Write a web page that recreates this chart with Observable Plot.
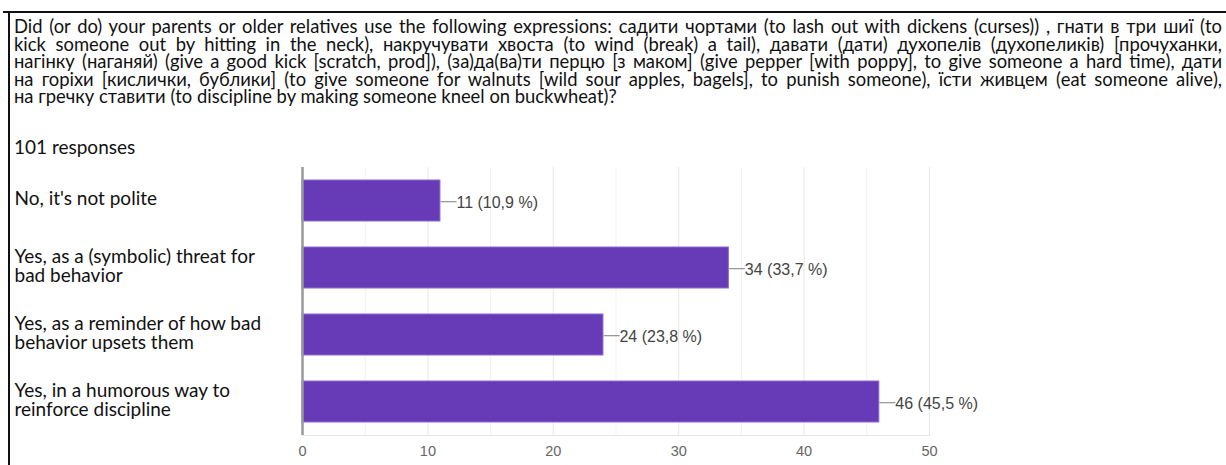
<!DOCTYPE html>
<html>
<head>
<meta charset="utf-8">
<script src="https://cdn.jsdelivr.net/npm/d3@7"></script>
<script src="https://cdn.jsdelivr.net/npm/@observablehq/plot@0.6"></script>
<style>
  html, body { margin: 0; padding: 0; background: #fff; }
  #page { position: relative; width: 1226px; height: 465px; overflow: hidden; background: #fff; }
  .border-top { position: absolute; left: 3px; top: 11px; width: 1223px; height: 2px; background: #111; }
  .border-left { position: absolute; left: 8px; top: 11px; width: 2px; height: 460px; background: #111; }
  #title { position: absolute; left: 14px; top: 18px; width: 1208px; font-family: Lato, sans-serif; font-size: 18.4px; line-height: 17.6px; color: #111; }
  #title .line { white-space: nowrap; display: block; height: 17.6px; }
  #title .line span { display: inline-block; white-space: nowrap; }
  #responses { position: absolute; left: 14px; top: 137px; font-family: Lato, sans-serif; font-size: 19px; line-height: 20px; color: #111; }
  #chart { position: absolute; left: 0; top: 160px; }
</style>
</head>
<body>
<div id="page">
  <div class="border-top"></div>
  <div class="border-left"></div>
  <div id="title"></div>
  <div id="responses"></div>
  <div id="chart"></div>
</div>
<script>
const titleLines = [
  "Did (or do) your parents or older relatives use the following expressions: садити чортами (to lash out with dickens (curses)) , гнати в три шиї (to",
  "kick someone out by hitting in the neck), накручувати хвоста (to wind (break) a tail), давати (дати) духопелів (духопеликів) [прочуханки,",
  "нагінку (наганяй) (give a good kick [scratch, prod]), (за)да(ва)ти перцю [з маком] (give pepper [with poppy], to give someone a hard time), дати",
  "на горіхи [кислички, бублики] (to give someone for walnuts [wild sour apples, bagels], to punish someone), їсти живцем (eat someone alive),",
  "на гречку ставити (to discipline by making someone kneel on buckwheat)?"
];
const responsesText = "101 responses";

const categories = [
  "No, it's not polite",
  "Yes, as a (symbolic) threat for\nbad behavior",
  "Yes, as a reminder of how bad\nbehavior upsets them",
  "Yes, in a humorous way to\nreinforce discipline"
];
const counts = [11, 34, 24, 46];
const percents = ["10,9", "33,7", "23,8", "45,5"];
const xTicks = [0, 10, 20, 30, 40, 50];
const minorGrid = [5, 15, 25, 35, 45];
const majorGrid = [10, 20, 30, 40, 50];

// Title: every line but the last is justified to the full width
const titleEl = document.getElementById("title");
titleLines.forEach((t, i) => {
  const div = document.createElement("div");
  div.className = "line";
  const span = document.createElement("span");
  span.textContent = t;
  div.appendChild(span);
  titleEl.appendChild(div);
  if (i < titleLines.length - 1) {
    const w = span.getBoundingClientRect().width;
    const diff = 1208 - w;
    if (diff >= 0) {
      const spaces = (t.match(/ /g) || []).length;
      span.style.wordSpacing = (diff / spaces) + "px";
    } else {
      span.style.letterSpacing = (diff / (t.length - 1)) + "px";
    }
  }
});
document.getElementById("responses").textContent = responsesText;

const data = categories.map((c, i) => ({category: c, count: counts[i], pct: percents[i]}));

const chart = Plot.plot({
  width: 1226,
  height: 305,
  marginLeft: 302,
  marginRight: 297,
  marginTop: 7,
  marginBottom: 30,
  style: {fontFamily: "'Liberation Sans', Arial, sans-serif", fontSize: "14.5px", color: "#666", background: "transparent"},
  x: {domain: [0, 50], ticks: xTicks, tickSize: 0, tickPadding: 10, label: null},
  y: {domain: categories, paddingInner: 0.39, paddingOuter: 0.195, axis: null},
  marks: [
    Plot.ruleX(minorGrid, {stroke: "#f1f1f1", strokeWidth: 1}),
    Plot.ruleX(majorGrid, {stroke: "#e6e6e6", strokeWidth: 1}),
    Plot.frame({anchor: "bottom", stroke: "#e6e6e6"}),
    Plot.barX(data, {y: "category", x: "count", fill: "#673ab7", stroke: "#8c6bd3", strokeWidth: 1}),
    Plot.ruleX([0], {stroke: "#999", strokeWidth: 2.5}),
    Plot.text(data, {y: "category", x: "count", text: () => "—", dx: 0, textAnchor: "start", fill: "#9a9a9a", fontSize: 16}),
    Plot.text(data, {y: "category", x: "count", text: d => `${d.count} (${d.pct} %)`, dx: 16, dy: 2, textAnchor: "start", fill: "#444", fontSize: 16}),
    Plot.text(data, {y: "category", text: "category", frameAnchor: "left", dx: -288, dy: -2, textAnchor: "start", fill: "#111", fontSize: 19, fontFamily: "Lato, sans-serif", lineHeight: 1.0})
  ]
});
document.getElementById("chart").appendChild(chart);
</script>
</body>
</html>
